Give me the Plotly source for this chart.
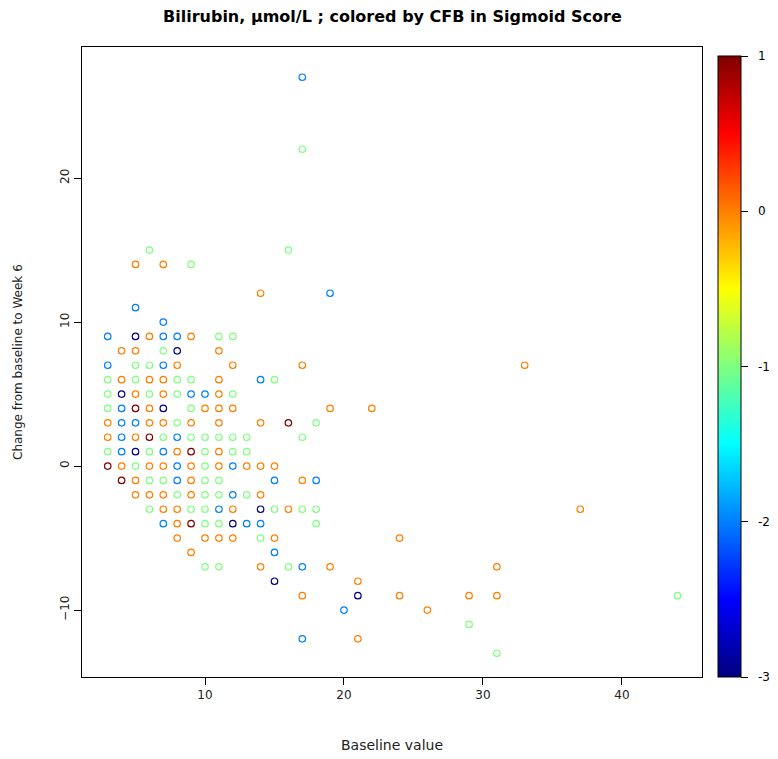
import plotly.graph_objects as go

# Baseline bilirubin (µmol/L), change from baseline to week 6, and CFB in sigmoid score
baseline = [
    3, 3, 3, 3, 3, 3, 3, 3, 3,
    4, 4, 4, 4, 4, 4, 4, 4, 4,
    5, 5, 5, 5, 5, 5, 5, 5, 5, 5, 5, 5, 5, 5,
    6, 6, 6, 6, 6, 6, 6, 6, 6, 6, 6, 6, 6,
    7, 7, 7, 7, 7, 7, 7, 7, 7, 7, 7, 7, 7, 7, 7, 7,
    8, 8, 8, 8, 8, 8, 8, 8, 8, 8, 8, 8, 8, 8,
    9, 9, 9, 9, 9, 9, 9, 9, 9, 9, 9, 9, 9, 9,
    10, 10, 10, 10, 10, 10, 10, 10, 10, 10, 10,
    11, 11, 11, 11, 11, 11, 11, 11, 11, 11, 11, 11, 11, 11, 11,
    12, 12, 12, 12, 12, 12, 12, 12, 12, 12, 12,
    13, 13, 13, 13, 13,
    14, 14, 14, 14, 14, 14, 14, 14, 14,
    15, 15, 15, 15, 15, 15, 15,
    16, 16, 16, 16,
    17, 17, 17, 17, 17, 17, 17, 17, 17,
    18, 18, 18, 18,
    19, 19, 19,
    20,
    21, 21, 21,
    22,
    24, 24,
    26,
    29, 29,
    31, 31, 31,
    33,
    37,
    44,
]

change_wk6 = [
    9, 7, 6, 5, 4, 3, 2, 1, 0,
    8, 6, 5, 4, 3, 2, 1, 0, -1,
    14, 11, 9, 8, 7, 6, 5, 4, 3, 2, 1, 0, -1, -2,
    15, 9, 7, 6, 5, 4, 3, 2, 1, 0, -1, -2, -3,
    14, 10, 9, 8, 7, 6, 5, 4, 3, 2, 1, 0, -1, -2, -3, -4,
    9, 8, 7, 6, 5, 3, 2, 1, 0, -1, -2, -3, -4, -5,
    14, 9, 6, 5, 4, 3, 2, 1, 0, -1, -2, -3, -4, -6,
    5, 4, 2, 1, 0, -1, -2, -3, -4, -5, -7,
    9, 8, 6, 5, 4, 3, 2, 1, 0, -1, -2, -3, -4, -5, -7,
    9, 7, 5, 4, 2, 1, 0, -2, -3, -4, -5,
    2, 1, 0, -2, -4,
    12, 6, 3, 0, -2, -3, -4, -5, -7,
    6, 0, -1, -3, -5, -6, -8,
    15, 3, -3, -7,
    27, 22, 7, 2, -1, -3, -7, -9, -12,
    3, -1, -3, -4,
    12, 4, -7,
    -10,
    -8, -9, -12,
    4,
    -5, -9,
    -10,
    -9, -11,
    -7, -9, -13,
    7,
    -3,
    -9,
]

cfb_sigmoid = [
    -2, -2, -1, -1, -1, 0, 0, -1, 1,
    0, 0, -3, -2, -2, -2, -2, 0, 1,
    0, -2, -3, 0, -1, -1, 0, 1, -2, 0, -3, -1, 0, 0,
    -1, 0, -1, 0, -1, 0, 0, 1, -1, 0, -1, 0, -1,
    0, -2, -2, -1, -2, 0, 0, -3, 0, -1, -2, 0, -1, 0, 0, -2,
    -2, -3, 0, -1, -1, -1, -2, 0, -2, -2, -1, 0, 0, 0,
    -1, 0, -1, -2, -1, 0, -1, 1, 0, 0, 0, -1, 1, 0,
    -2, 0, -1, -1, -1, -1, -1, -1, -1, 0, -1,
    -1, 0, 0, 0, 0, 0, -1, 0, 0, -1, -1, -2, -1, 0, -1,
    -1, 0, -1, 0, -1, -1, -2, -2, 0, -3, 0,
    -1, -1, 0, -1, -2,
    0, -2, 0, 0, 0, -3, -2, -1, 0,
    -1, 0, -2, -1, 0, -2, -3,
    -1, 1, 0, -1,
    -2, -1, 0, -1, 0, -1, -2, 0, -2,
    -1, -2, -1, -1,
    -2, 0, 0,
    -2,
    0, -3, 0,
    0,
    0, 0,
    0,
    0, -1,
    0, 0, -1,
    0,
    0,
    -1,
]

x_ticks = [10, 20, 30, 40]
y_ticks = [-10, 0, 10, 20]
cbar_ticks = [-3, -2, -1, 0, 1]

# jet-style palette, dark blue -> dark red
jet = [
    [0.000, "#00007F"], [0.125, "#0000FF"], [0.250, "#007FFF"],
    [0.375, "#00FFFF"], [0.500, "#7FFF7F"], [0.625, "#FFFF00"],
    [0.750, "#FF7F00"], [0.875, "#FF0000"], [1.000, "#7F0000"],
]

FONT = "DejaVu Sans, Liberation Sans, Arial, sans-serif"
W, H = 778, 759
ML, MR, MT, MB = 82, 76, 47, 82
plot_h = H - MT - MB

fig = go.Figure(
    go.Scatter(
        x=baseline,
        y=change_wk6,
        mode="markers",
        marker=dict(
            symbol="circle-open",
            size=6.5,
            line=dict(width=1.2),
            color=cfb_sigmoid,
            colorscale=jet,
            cmin=-3,
            cmax=1,
            showscale=True,
            colorbar=dict(
                x=(718 - ML) / (W - ML - MR),
                xanchor="left",
                xpad=0,
                y=0,
                yanchor="bottom",
                ypad=0,
                len=621,
                lenmode="pixels",
                thickness=23,
                thicknessmode="pixels",
                outlinewidth=1,
                outlinecolor="black",
                ticks="outside",
                ticklen=7,
                tickwidth=1,
                tickcolor="black",
                tickvals=cbar_ticks,
                ticktext=["\u00a0\u00a0" + str(v) for v in cbar_ticks],
                tickfont=dict(family=FONT, size=12, color="black"),
            ),
        ),
        hoverinfo="x+y",
    )
)

axis_common = dict(
    showgrid=False,
    zeroline=False,
    showline=True,
    mirror=True,
    linecolor="black",
    linewidth=1,
    ticks="outside",
    ticklen=7,
    tickwidth=1,
    tickcolor="black",
    tickfont=dict(family=FONT, size=12, color="#222222"),
)

fig.update_xaxes(range=[1.15, 45.76], tickvals=x_ticks, **axis_common)
fig.update_yaxes(range=[-14.65, 29.1], tickvals=y_ticks, tickangle=-90, **axis_common)

fig.update_layout(
    width=W,
    height=H,
    margin=dict(l=ML, r=MR, t=MT, b=MB, autoexpand=False),
    paper_bgcolor="white",
    plot_bgcolor="white",
    showlegend=False,
    font=dict(family=FONT, color="black"),
    annotations=[
        dict(
            text="<b>Bilirubin, µmol/L ; colored by CFB in Sigmoid Score</b>",
            x=0.5, xref="paper", y=1 + (MT - 17) / plot_h, yref="paper",
            yanchor="middle", showarrow=False,
            font=dict(family=FONT, size=16, color="black"),
        ),
        dict(
            text="Baseline value",
            x=0.5, xref="paper", y=-(745 - MT - plot_h) / plot_h, yref="paper",
            yanchor="middle", showarrow=False,
            font=dict(family=FONT, size=14, color="#222222"),
        ),
        dict(
            text="Change from baseline to Week 6",
            x=-(ML - 18) / (W - ML - MR), xref="paper", y=0.5, yref="paper",
            xanchor="center", textangle=-90, showarrow=False,
            font=dict(family=FONT, size=12, color="#222222"),
        ),
    ],
)

fig.write_html("out.html")
